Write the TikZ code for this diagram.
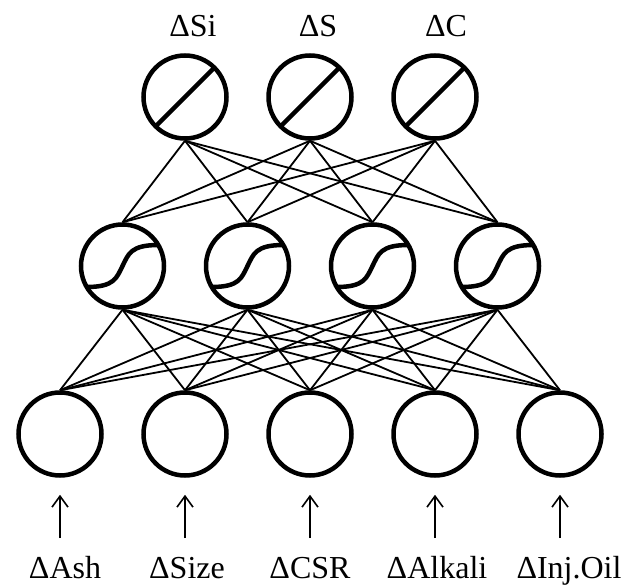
\documentclass[tikz,border=0pt]{standalone}
\usepackage{fontspec}
\setmainfont{Liberation Serif}
\usetikzlibrary{arrows.meta}
\begin{document}
\begin{tikzpicture}[x=1pt,y=-1pt,
  neuron/.style={circle,draw,line width=4.5pt,minimum size=83pt,inner sep=0pt},
  link/.style={line width=1.8pt},
  mark line/.style={line width=4.5pt},
  lbl/.style={font=\fontsize{32}{34}\selectfont,anchor=base,inner sep=0pt},
  inarrow/.style={line width=1.6pt,-{Straight Barb[length=11pt,width=16pt,line width=1.6pt]}}]
\useasboundingbox (0,0) rectangle (636,586);
% output layer
\node[neuron] (o1) at (185,97) {};
\node[neuron] (o2) at (310,97) {};
\node[neuron] (o3) at (435,97) {};
% hidden layer
\node[neuron] (h1) at (122.5,266) {};
\node[neuron] (h2) at (247.5,266) {};
\node[neuron] (h3) at (372.5,266) {};
\node[neuron] (h4) at (497.5,266) {};
% input layer
\node[neuron] (i1) at (60,434) {};
\node[neuron] (i2) at (185,434) {};
\node[neuron] (i3) at (310,434) {};
\node[neuron] (i4) at (435,434) {};
\node[neuron] (i5) at (560,434) {};
% links
\foreach \o in {1,2,3}
  \foreach \h in {1,2,3,4}
    \draw[link] (o\o.south) -- (h\h.north);
\foreach \h in {1,2,3,4}
  \foreach \i in {1,2,3,4,5}
    \draw[link] (h\h.south) -- (i\i.north);
% linear marks
\foreach \o in {1,2,3}
  \draw[mark line] (o\o.center) ++(-29.3,29.3) -- ++(58.6,-58.6);
% sigmoid marks
\foreach \h in {1,2,3,4}{
  \begin{scope}[shift={(h\h.center)}]
    \draw[mark line] (-36,21) .. controls (-8,21) and (-6,12) .. (0,0)
      .. controls (6,-12) and (8,-21) .. (36,-21);
  \end{scope}
}
% output labels
\node[lbl] (lo1) at (193,37) {ΔSi};
\node[lbl] (lo2) at (318,37) {ΔS};
\node[lbl] (lo3) at (446,37) {ΔC};
% input labels
\node[lbl] (li1) at (65,578) {ΔAsh};
\node[lbl] (li2) at (187,578) {ΔSize};
\node[lbl] (li3) at (310,578) {ΔCSR};
\node[lbl] (li4) at (437,578) {ΔAlkali};
\node[lbl] (li5) at (569,578) {ΔInj.Oil};
% input arrows
\foreach \i/\x in {1/60,2/185,3/310,4/435,5/560}{
  \coordinate (t\i) at (\x,538);
  \draw[inarrow,shorten >=17pt] (t\i) -- (i\i.south);
}
\end{tikzpicture}
\end{document}
